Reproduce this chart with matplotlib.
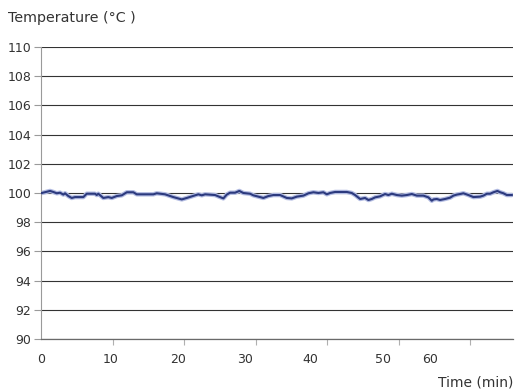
import matplotlib
matplotlib.use("Agg")
import matplotlib.pyplot as plt
import numpy as np

# Temperature trace (time in minutes, temp in degC)
time_min = [
    0.10, 1.26, 1.72, 2.20, 2.66, 3.12, 3.36, 3.82, 4.29, 4.76, 5.92, 6.39,
    7.55, 7.79, 8.01, 8.71, 9.41, 9.89, 10.59, 11.29, 11.99, 12.91, 13.38,
    15.71, 16.18, 17.34, 18.50, 19.68, 20.38, 21.54, 22.00, 22.48, 22.94,
    24.34, 25.03, 25.50, 25.97, 26.43, 27.13, 27.73, 28.29, 29.23, 29.69,
    30.63, 31.09, 31.79, 32.49, 33.43, 34.36, 35.06, 35.76, 36.69, 37.39,
    38.09, 38.79, 39.48, 39.96, 40.42, 41.12, 42.76, 43.45, 43.92, 44.62,
    45.31, 45.78, 46.25, 46.71, 47.41, 48.11, 48.57, 49.05, 49.75, 50.45,
    51.15, 51.85, 52.55, 53.47, 54.17, 54.64, 54.87, 55.34, 55.80, 56.50,
    57.20, 57.66, 58.14, 58.60, 59.06, 59.76, 60.46, 61.40, 61.86, 62.34,
    62.80, 63.26, 63.82, 64.20, 64.66, 65.13, 65.83,
]
temp_c = [
    100.00, 100.14, 100.07, 99.98, 100.02, 99.89, 99.98, 99.79, 99.66, 99.72,
    99.72, 99.95, 99.95, 99.86, 99.95, 99.66, 99.72, 99.66, 99.79, 99.84,
    100.05, 100.05, 99.91, 99.91, 99.98, 99.91, 99.72, 99.56, 99.66, 99.84,
    99.91, 99.84, 99.91, 99.86, 99.72, 99.63, 99.89, 100.02, 100.02, 100.14,
    100.00, 99.95, 99.84, 99.72, 99.66, 99.79, 99.86, 99.86, 99.66, 99.63,
    99.75, 99.82, 99.98, 100.05, 100.00, 100.05, 99.91, 100.00, 100.07,
    100.07, 100.00, 99.86, 99.59, 99.66, 99.52, 99.59, 99.70, 99.77, 99.93,
    99.86, 99.95, 99.86, 99.82, 99.86, 99.93, 99.82, 99.82, 99.70, 99.47,
    99.56, 99.59, 99.52, 99.59, 99.68, 99.82, 99.89, 99.93, 99.98, 99.86,
    99.72, 99.75, 99.82, 99.95, 99.95, 100.05, 100.14, 100.05, 99.98, 99.86,
    99.86,
]

y_ticks = list(range(90, 111, 2))
x_tick_marks = [10, 20, 30, 40, 50, 60]
# the labels sit a little off their tick marks in the original
x_label_pos = [0, 9.7, 19.2, 28.5, 37.6, 47.8, 54.4]
x_labels = ["0", "10", "20", "30", "40", "50", "60"]

text_col = "#333333"

fig = plt.figure(figsize=(5.18, 3.90), dpi=100)
ax = fig.add_axes([0.0792, 0.1308, 0.9112, 0.7487])

ax.set_xlim(0, 66)
ax.set_ylim(90, 110)

for y in y_ticks:
    ax.axhline(y, color="#333333", lw=0.8, zorder=1)

# line with light halo
ax.plot(time_min, temp_c, color="#b3bce2", lw=3.2, solid_capstyle="round",
        solid_joinstyle="round", zorder=2)
ax.plot(time_min, temp_c, color="#2c3a7e", lw=1.5, solid_joinstyle="round",
        zorder=3)

ax.set_yticks(y_ticks)
ax.set_yticklabels([str(v) for v in y_ticks])
ax.tick_params(axis="y", length=5, width=0.8, color="#9a9a9a",
               labelsize=9, labelcolor=text_col, pad=2)

ax.set_xticks(x_label_pos)
ax.set_xticklabels(x_labels)
ax.tick_params(axis="x", which="major", length=0, labelsize=9,
               labelcolor=text_col, pad=10)
ax.set_xticks(x_tick_marks, minor=True)
ax.tick_params(axis="x", which="minor", length=4, width=0.8, color="#b0b0b0")

for side in ["top", "right"]:
    ax.spines[side].set_visible(False)
ax.spines["left"].set_color("#9a9a9a")
ax.spines["left"].set_linewidth(0.8)
ax.spines["bottom"].set_color("#6a6a6a")
ax.spines["bottom"].set_linewidth(0.9)

fig.text(8 / 518, 1 - 18 / 390, "Temperature (°C )", fontsize=10.3,
         color=text_col, ha="left", va="center")
fig.text(513 / 518, 1 - 383 / 390, "Time (min)", fontsize=10,
         color=text_col, ha="right", va="center")

fig.savefig("out.png", dpi=100)
